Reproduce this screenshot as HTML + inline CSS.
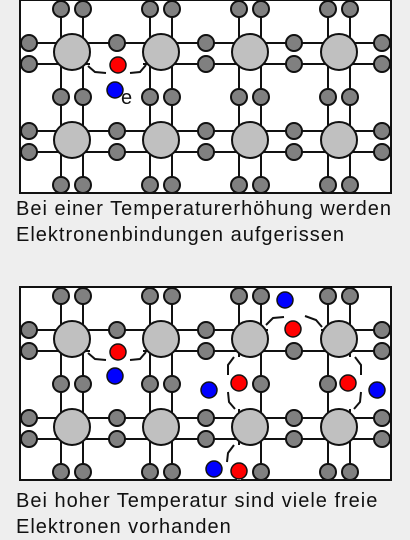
<!DOCTYPE html>
<html><head><meta charset="utf-8"><style>
html,body{margin:0;padding:0;background:#eeeeee;}
body{width:410px;height:540px;position:relative;overflow:hidden;font-family:"Liberation Sans",sans-serif;}
.cap{position:absolute;left:16px;font-size:20px;line-height:26px;letter-spacing:1px;color:#111;margin:0;white-space:nowrap;}
</style></head><body>
<svg id="svg" width="410" height="540" style="position:absolute;left:0;top:0"></svg>
<p class="cap" style="top:196px">Bei einer Temperaturerhöhung werden<br>Elektronenbindungen aufgerissen</p>
<p class="cap" style="top:488px">Bei hoher Temperatur sind viele freie<br>Elektronen vorhanden</p>
<script>
const NS="http://www.w3.org/2000/svg";
const svg=document.getElementById('svg');
const cols=[72,161,250,339];
const rowsRel=[52,140];
const panels=[0,287];
function mk(tag,attrs,parent){const e=document.createElementNS(NS,tag);for(const k in attrs)e.setAttribute(k,attrs[k]);(parent||svg).appendChild(e);return e;}
const broken=[
 [0,'h',64,90,143,117],
 [1,'h',64,90,143,117],
 [1,'h',43,268,321,294],
 [1,'v',239,70,122,97],
 [1,'v',350,70,122,97],
 [1,'v',239,158,193,185]
];
const stubs=[
 [0,"M88,66 L95,72 L106,73 M130,73 L140,72 L146,65"],
 [1,"M88,66 L95,72 L106,73 M130,73 L140,72 L146,65"],
 [1,"M266,38 L273,31 L284,30 M305,29 L316,33 L322,40"],
 [1,"M234,70 L228,78 L228,88 M228,105 L229,115 L235,122"],
 [1,"M355,70 L361,78 L361,88 M361,105 L360,115 L354,122"],
 [1,"M234,158 L228,166 L227,175"]
];
const reds=[[0,118,65],[1,118,65],[1,293,42],[1,239,96],[1,348,96],[1,239,184]];
const blues=[[0,115,90],[1,115,89],[1,285,13],[1,209,103],[1,377,103],[1,214,182]];
panels.forEach((oy,pi)=>{
  const g=mk('g',{transform:`translate(0,${oy})`});
  
  
  const box=mk('rect',{x:20,y:0,width:371,height:193,fill:'#fff',stroke:'#111','stroke-width':2},g);
  
  
  cols.forEach(c=>{[c-11,c+11].forEach(x=>{mk('line',{x1:x,y1:0,x2:x,y2:193,stroke:'#111','stroke-width':2},g);});});
  rowsRel.forEach(r=>{[r-9,r+12].forEach(y=>{mk('line',{x1:20,y1:y,x2:391,y2:y,stroke:'#111','stroke-width':2},g);});});
  const bk=broken.filter(b=>b[0]===pi);
  bk.forEach(b=>{
    if(b[1]==='h')mk('line',{x1:b[3],y1:b[2],x2:b[4],y2:b[2],stroke:'#fff','stroke-width':4},g);
    else mk('line',{x1:b[2],y1:b[3],x2:b[2],y2:b[4],stroke:'#fff','stroke-width':4},g);
  });
  stubs.filter(s=>s[0]===pi).forEach(s=>{
    const p=mk('path',{d:s[1],fill:'none',stroke:'#111','stroke-width':2},g);
    
    
  });
  function isRemoved(x,y){return bk.some(b=>(b[1]==='h'&&Math.abs(b[2]-y)<3&&Math.abs(b[5]-x)<5)||(b[1]==='v'&&Math.abs(b[2]-x)<3&&Math.abs(b[5]-y)<5));}
  const small=[];
  cols.forEach(c=>{[9,97,185].forEach(y=>{[c-11,c+11].forEach(x=>small.push([x,y]));});});
  rowsRel.forEach(r=>{[29,117,206,294,382].forEach(x=>{[r-9,r+12].forEach(y=>small.push([x,y]));});});
  small.forEach(([x,y])=>{
    if(isRemoved(x,y))return;
    const a=mk('circle',{cx:x,cy:y,r:8,fill:'#808080',stroke:'#111','stroke-width':2},g);
    
    
  });
  cols.forEach(c=>rowsRel.forEach(r=>{
    const a=mk('circle',{cx:c,cy:r,r:18,fill:'#c0c0c0',stroke:'#111','stroke-width':2},g);
    
    
  }));
  reds.filter(d=>d[0]===pi).forEach(d=>{
    const a=mk('circle',{cx:d[1],cy:d[2],r:8,fill:'#ff0000',stroke:'#111','stroke-width':1.5},g);
    
    
  });
  blues.filter(d=>d[0]===pi).forEach(d=>{
    const a=mk('circle',{cx:d[1],cy:d[2],r:8,fill:'#0000ff',stroke:'#111','stroke-width':1.5},g);
    
    
  });
  if(pi===0){
    const t=mk('text',{x:121,y:104,'font-size':20,'font-family':'Liberation Sans, sans-serif',fill:'#111'},g);
    t.textContent='e';
    
    
  }
});
</script>
</body></html>
